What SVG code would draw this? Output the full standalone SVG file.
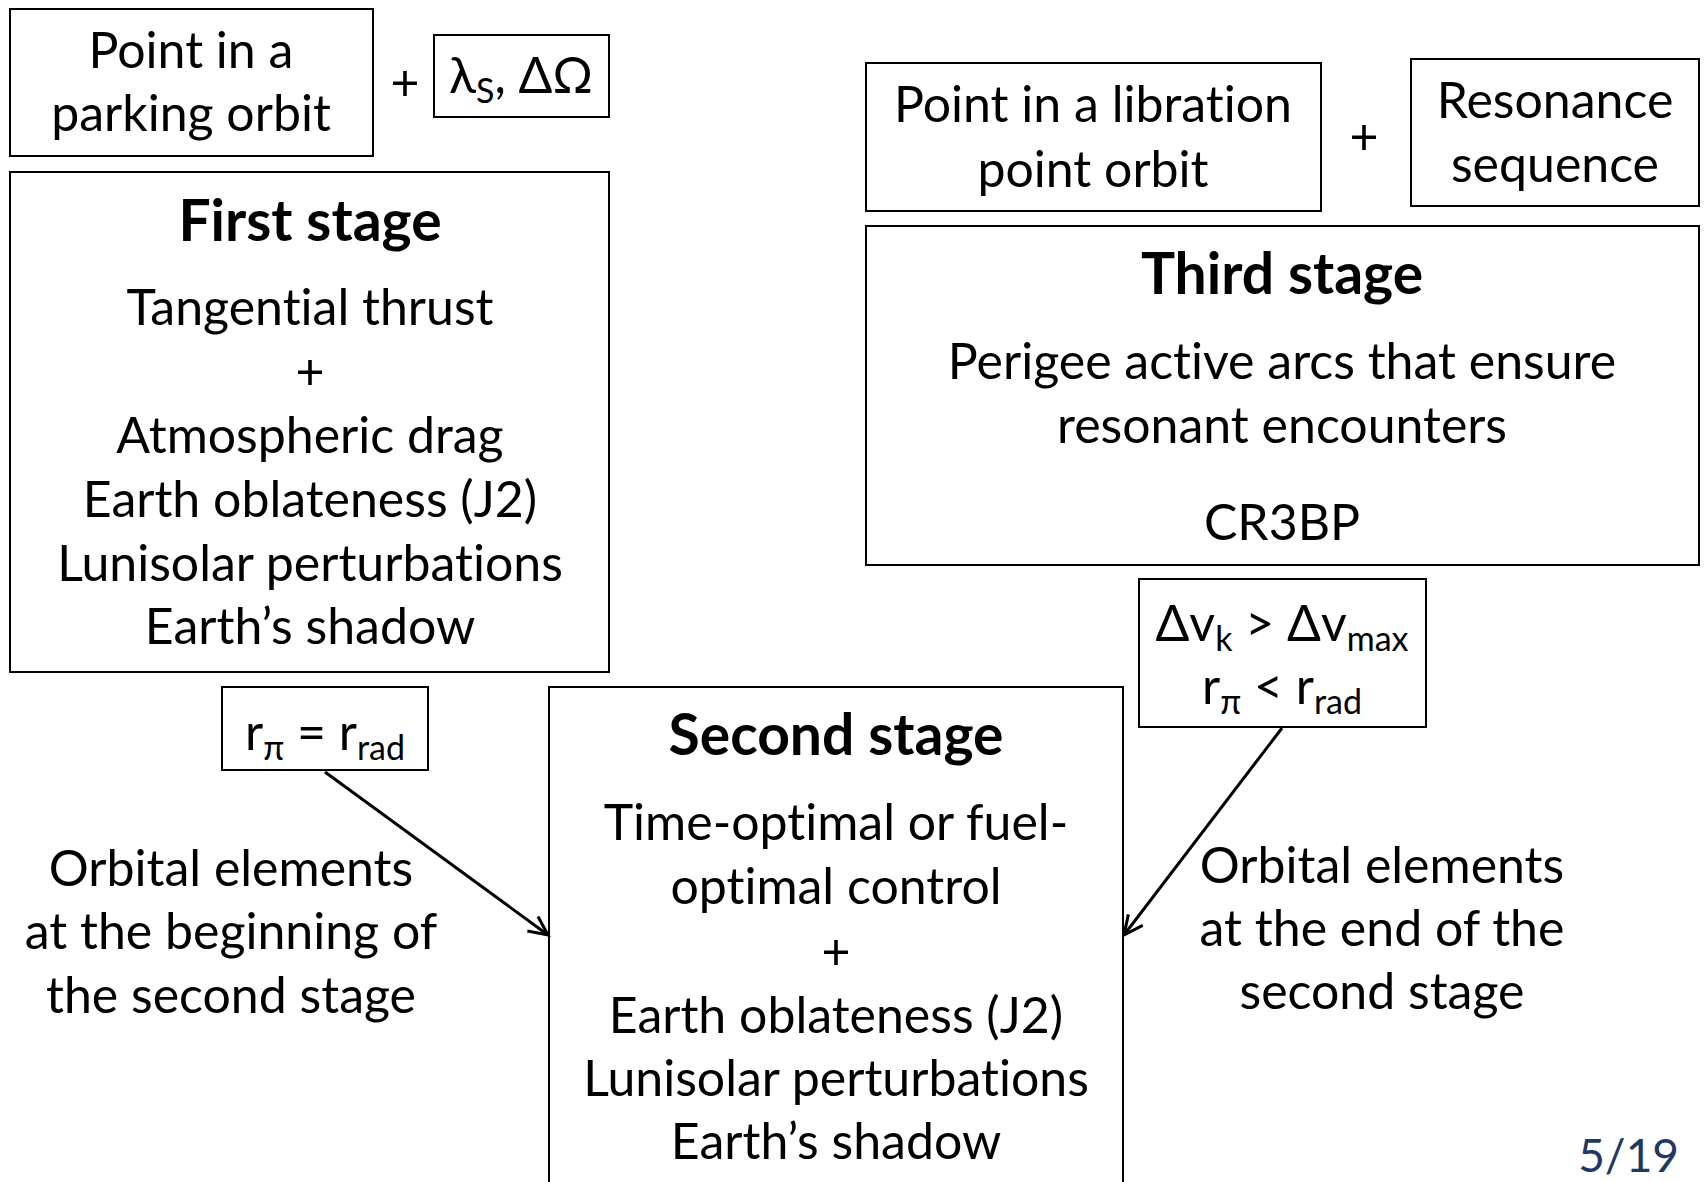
<svg xmlns="http://www.w3.org/2000/svg" width="1704" height="1182" viewBox="0 0 1704 1182">
<style>
.box{fill:#fff;stroke:#000;stroke-width:2}
text{font-family:Lato,"Open Sans",sans-serif;font-size:50px;fill:#000;text-anchor:middle;font-variant-ligatures:none}
.t{font-weight:bold;font-size:57px}
.c{fill:none;stroke:#000;stroke-width:3}
</style>
<defs>
<marker id="ah" viewBox="0 0 24 24" refX="21" refY="12" markerWidth="24" markerHeight="24" markerUnits="userSpaceOnUse" orient="auto">
<path d="M2,3 L21,12 L2,21" fill="none" stroke="#000" stroke-width="3"/>
</marker>
</defs>
<rect width="1704" height="1182" fill="#fff"/>
<g id="parking">
<rect class="box" x="10" y="9" width="363" height="147"/>
<text x="191" y="68">Point in a</text>
<text x="191" y="131">parking orbit</text>
</g>
<text x="405" y="100">+</text>
<g id="lambda">
<rect class="box" x="434" y="35" width="175" height="82"/>
<text x="521" y="93">λ<tspan dy="10" font-size="34">S</tspan><tspan dy="-10">, ΔΩ</tspan></text>
</g>
<g id="first">
<rect class="box" x="10" y="172" width="599" height="500"/>
<text class="t" x="310" y="241">First stage</text>
<text x="310" y="325">Tangential thrust</text>
<text x="310" y="389">+</text>
<text x="310" y="453">Atmospheric drag</text>
<text x="310" y="517">Earth oblateness (J2)</text>
<text x="310" y="581">Lunisolar perturbations</text>
<text x="310" y="644">Earth’s shadow</text>
</g>
<g id="libration">
<rect class="box" x="866" y="63" width="455" height="148"/>
<text x="1093" y="122">Point in a libration</text>
<text x="1093" y="187">point orbit</text>
</g>
<text x="1364" y="154">+</text>
<g id="resonance">
<rect class="box" x="1411" y="59" width="288" height="147"/>
<text x="1555" y="118">Resonance</text>
<text x="1555" y="182">sequence</text>
</g>
<g id="third">
<rect class="box" x="866" y="226" width="833" height="339"/>
<text class="t" x="1282" y="294">Third stage</text>
<text x="1282" y="379">Perigee active arcs that ensure</text>
<text x="1282" y="443">resonant encounters</text>
<text x="1282" y="540">CR3BP</text>
</g>
<g id="cond3">
<rect class="box" x="1139" y="579" width="287" height="148"/>
<text x="1282" y="641">Δv<tspan dy="10" font-size="34">k</tspan><tspan dy="-10"> &gt; Δv</tspan><tspan dy="10" font-size="34">max</tspan></text>
<text x="1282" y="704">r<tspan dy="10" font-size="34">π</tspan><tspan dy="-10"> &lt; r</tspan><tspan dy="10" font-size="34">rad</tspan></text>
</g>
<g id="cond1">
<rect class="box" x="222" y="687" width="206" height="83"/>
<text x="325" y="750">r<tspan dy="10" font-size="34">π</tspan><tspan dy="-10"> = r</tspan><tspan dy="10" font-size="34">rad</tspan></text>
</g>
<g id="second">
<rect class="box" x="549" y="687" width="574" height="520"/>
<text class="t" x="836" y="755">Second stage</text>
<text x="836" y="840">Time-optimal or fuel-</text>
<text x="836" y="904">optimal control</text>
<text x="836" y="969">+</text>
<text x="836" y="1033">Earth oblateness (J2)</text>
<text x="836" y="1096">Lunisolar perturbations</text>
<text x="836" y="1159">Earth’s shadow</text>
</g>
<g id="label-left">
<text x="231" y="886">Orbital elements</text>
<text x="231" y="949">at the beginning of</text>
<text x="231" y="1013">the second stage</text>
</g>
<g id="label-right">
<text x="1382" y="883">Orbital elements</text>
<text x="1382" y="946">at the end of the</text>
<text x="1382" y="1009">second stage</text>
</g>
<g id="connectors">
<line class="c" x1="325" y1="772" x2="548" y2="935" marker-end="url(#ah)"/>
<line class="c" x1="1282" y1="728" x2="1124" y2="935" marker-end="url(#ah)"/>
</g>
<text x="1679" y="1172" style="text-anchor:end;fill:#1F3864;font-size:46px">5/19</text>
</svg>
